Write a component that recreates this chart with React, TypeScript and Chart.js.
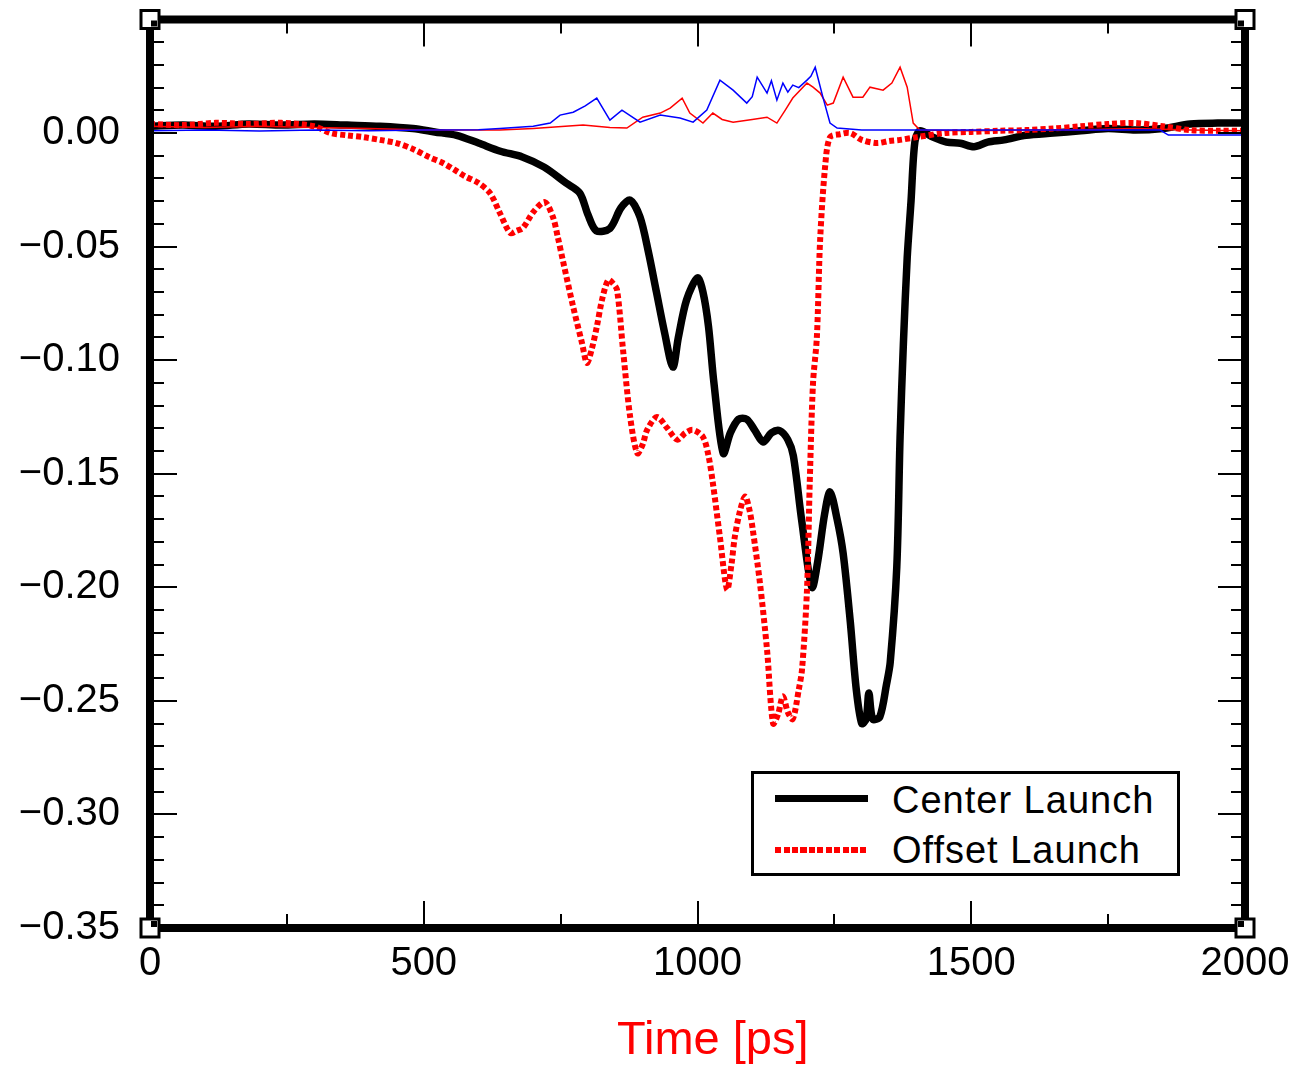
import React, { useEffect, useRef } from 'react';
import { Chart, registerables } from 'chart.js';

Chart.register(...registerables);

// ---- Data (time in ps, signal values) ----
const centerTime = [0, 60, 120, 180, 240, 300, 360, 420, 480, 520, 560, 600, 640, 680, 720, 760, 785, 800, 815, 840, 860, 877, 895, 910, 925, 940, 955, 965, 980, 1000, 1010, 1020, 1030, 1047, 1060, 1075, 1090, 1105, 1120, 1135, 1150, 1165, 1175, 1190, 1209, 1220, 1232, 1242, 1255, 1266, 1279, 1290, 1300, 1308, 1313, 1320, 1333, 1345, 1352, 1364, 1370, 1376, 1383, 1390, 1397, 1406, 1430, 1455, 1480, 1505, 1530, 1560, 1600, 1650, 1700, 1750, 1800, 1850, 1900, 1950, 2000];
const centerValue = [0.003, 0.0035, 0.003, 0.004, 0.0035, 0.004, 0.0035, 0.003, 0.002, 0.0005, -0.001, -0.0044, -0.008, -0.0105, -0.015, -0.022, -0.0264, -0.036, -0.043, -0.042, -0.033, -0.0295, -0.037, -0.052, -0.07, -0.088, -0.103, -0.09, -0.0735, -0.0638, -0.07, -0.085, -0.11, -0.141, -0.132, -0.126, -0.126, -0.131, -0.136, -0.132, -0.131, -0.135, -0.142, -0.17, -0.2, -0.188, -0.168, -0.158, -0.17, -0.185, -0.215, -0.245, -0.26, -0.258, -0.2465, -0.258, -0.257, -0.243, -0.233, -0.191, -0.134, -0.093, -0.055, -0.03, -0.004, 0.001, -0.0018, -0.004, -0.0045, -0.006, -0.004, -0.003, -0.001, 0.0, 0.001, 0.002, 0.0013, 0.002, 0.004, 0.0044, 0.0044];

const offsetTime = [0, 60, 120, 180, 240, 300, 330, 360, 390, 420, 450, 480, 510, 535, 555, 575, 600, 621, 639, 658, 670, 681, 700, 721, 736, 745, 754, 773, 789, 798, 807, 816, 826, 837, 845, 853, 864, 877, 890, 900, 908, 926, 945, 963, 978, 992, 1010, 1020, 1028, 1041, 1054, 1062, 1068, 1078, 1087, 1095, 1101, 1114, 1127, 1138, 1147, 1156, 1165, 1174, 1185, 1191, 1200, 1205, 1211, 1218, 1224, 1233, 1242, 1260, 1279, 1300, 1328, 1350, 1370, 1401, 1450, 1500, 1550, 1600, 1650, 1700, 1750, 1800, 1850, 1900, 1950, 2000];
const offsetValue = [0.004, 0.0035, 0.0045, 0.004, 0.0045, 0.003, 0.0, -0.001, -0.0018, -0.003, -0.0044, -0.007, -0.0106, -0.0132, -0.016, -0.019, -0.022, -0.0264, -0.0352, -0.044, -0.043, -0.0418, -0.0348, -0.0304, -0.037, -0.046, -0.056, -0.0766, -0.0924, -0.1012, -0.095, -0.0854, -0.073, -0.0647, -0.066, -0.069, -0.0955, -0.125, -0.141, -0.137, -0.1307, -0.125, -0.13, -0.135, -0.132, -0.1307, -0.1338, -0.142, -0.154, -0.178, -0.201, -0.19, -0.178, -0.166, -0.16, -0.166, -0.1747, -0.198, -0.2275, -0.26, -0.256, -0.248, -0.255, -0.258, -0.245, -0.236, -0.201, -0.154, -0.11, -0.09, -0.047, -0.015, -0.0018, -0.0005, 0.0, -0.003, -0.0044, -0.0035, -0.003, -0.0018, 0.0, 0.0005, 0.001, 0.0013, 0.002, 0.003, 0.004, 0.0044, 0.003, 0.0013, 0.001, 0.001];

const blueTime = [0, 100, 200, 300, 400, 500, 600, 639, 700, 731, 749, 773, 795, 816, 840, 862, 895, 932, 968, 992, 1017, 1041, 1065, 1090, 1100, 1109, 1127, 1135, 1145, 1156, 1165, 1174, 1185, 1200, 1207, 1215, 1229, 1242, 1255, 1300, 1400, 1500, 1600, 1700, 1845, 1860, 2000];
const blueValue = [0.001, 0.0013, 0.0009, 0.0013, 0.001, 0.0013, 0.0015, 0.002, 0.003, 0.0044, 0.0079, 0.0092, 0.012, 0.0154, 0.0057, 0.0101, 0.0048, 0.0079, 0.0066, 0.0048, 0.0101, 0.0233, 0.0189, 0.0132, 0.016, 0.0246, 0.0176, 0.023, 0.0145, 0.022, 0.018, 0.0211, 0.02, 0.0233, 0.025, 0.029, 0.0158, 0.0044, 0.0022, 0.0013, 0.0013, 0.0013, 0.0013, 0.0013, 0.0013, -0.0009, -0.0009];

const redThinTime = [0, 100, 200, 300, 400, 500, 600, 639, 700, 791, 840, 871, 900, 932, 950, 972, 986, 1010, 1028, 1045, 1065, 1100, 1127, 1145, 1160, 1174, 1200, 1211, 1224, 1237, 1248, 1266, 1284, 1302, 1315, 1339, 1355, 1370, 1383, 1394, 1406, 1500, 1600, 1700, 1800, 1900, 2000];
const redThinValue = [0.003, 0.0025, 0.003, 0.0025, 0.002, 0.0013, 0.0013, 0.0013, 0.002, 0.0035, 0.0025, 0.0022, 0.007, 0.0088, 0.011, 0.0154, 0.0088, 0.0044, 0.0088, 0.006, 0.0048, 0.006, 0.007, 0.0044, 0.01, 0.0154, 0.022, 0.0202, 0.0176, 0.0123, 0.0132, 0.0246, 0.0158, 0.0158, 0.0202, 0.0189, 0.022, 0.029, 0.0202, 0.0044, 0.0013, 0.001, 0.0013, 0.0015, 0.002, 0.0013, 0.001];

const xMajorTicks = [0, 500, 1000, 1500, 2000];
const xMinorTicks = [250, 750, 1250, 1750];
const yMajorTicks = [0.05, 0, -0.05, -0.1, -0.15, -0.2, -0.25, -0.3, -0.35];

const legendLabels = ['Center Launch', 'Offset Launch'];
const axisTitle = 'Time [ps]';

const pts = (t: number[], v: number[]) => t.map((x, i) => ({ x, y: v[i] }));

const TICK_FONT = "'Liberation Sans', Arial, sans-serif";

const W = 1286;
const H = 1050;

const framePlugin = {
  id: 'frame',
  afterDraw(chart: any) {
    const { ctx, chartArea: a, scales } = chart;
    const xs = scales.x;
    const ys = scales.y;
    ctx.save();
    ctx.strokeStyle = '#000';
    ctx.lineWidth = 2;
    ctx.beginPath();
    const xt = (v: number, len: number) => {
      const p = Math.round(xs.getPixelForValue(v));
      ctx.moveTo(p, a.bottom);
      ctx.lineTo(p, a.bottom - len);
      ctx.moveTo(p, a.top);
      ctx.lineTo(p, a.top + len);
    };
    const yt = (v: number, len: number) => {
      const p = Math.round(ys.getPixelForValue(v));
      ctx.moveTo(a.left, p);
      ctx.lineTo(a.left + len, p);
      ctx.moveTo(a.right, p);
      ctx.lineTo(a.right - len, p);
    };
    xMajorTicks.forEach((v) => xt(v, 27));
    xMinorTicks.forEach((v) => xt(v, 14));
    yMajorTicks.forEach((v) => yt(v, 27));
    for (let i = -34; i <= 4; i++) {
      if (i % 5 !== 0) yt(i / 100, 14);
    }
    ctx.stroke();

    ctx.lineWidth = 8;
    ctx.strokeRect(a.left, a.top, a.right - a.left, a.bottom - a.top);

    const corners = [
      [a.left, a.top],
      [a.right, a.top],
      [a.left, a.bottom],
      [a.right, a.bottom],
    ];
    corners.forEach(([cx, cy]) => {
      ctx.fillStyle = '#fff';
      ctx.fillRect(cx - 10, cy - 10, 20, 20);
      ctx.lineWidth = 3;
      ctx.strokeStyle = '#000';
      ctx.strokeRect(cx - 9, cy - 9, 18, 18);
      ctx.fillStyle = '#000';
      const dx = cx < (a.left + a.right) / 2 ? 1 : -7;
      const dy = cy < (a.top + a.bottom) / 2 ? 1 : -7;
      ctx.fillRect(cx + dx, cy + dy, 6, 6);
    });
    ctx.restore();
  },
};

export default function App() {
  const ref = useRef<HTMLCanvasElement | null>(null);

  useEffect(() => {
    if (!ref.current) return;
    const body = document.body;
    body.style.marginRight = '0px';
    body.style.marginBottom = '0px';
    body.style.width = W + 'px';
    body.style.height = '1058px';
    const chart = new Chart(ref.current, {
      type: 'line',
      data: {
        datasets: [
          {
            label: 'thin blue',
            data: pts(blueTime, blueValue),
            borderColor: '#0000ff',
            borderWidth: 1.5,
            pointRadius: 0,
            tension: 0,
            order: 0,
          },
          {
            label: 'thin red',
            data: pts(redThinTime, redThinValue),
            borderColor: '#ff0000',
            borderWidth: 1.5,
            pointRadius: 0,
            tension: 0,
            order: 1,
          },
          {
            label: legendLabels[1],
            data: pts(offsetTime, offsetValue),
            borderColor: '#ff0000',
            borderWidth: 6,
            borderDash: [5, 3],
            pointRadius: 0,
            tension: 0.3,
            order: 2,
          },
          {
            label: legendLabels[0],
            data: pts(centerTime, centerValue),
            borderColor: '#000000',
            borderWidth: 7.5,
            pointRadius: 0,
            tension: 0.3,
            order: 3,
          },
        ],
      },
      options: {
        animation: false,
        responsive: false,
        maintainAspectRatio: false,
        layout: { padding: { top: 11.5, right: W - 1237, left: 0, bottom: 0 } },
        plugins: {
          legend: { display: false },
          tooltip: { enabled: false },
          title: { display: false },
        },
        scales: {
          x: {
            type: 'linear',
            min: 0,
            max: 2000,
            grid: { display: false, drawTicks: false },
            border: { display: false },
            ticks: {
              stepSize: 500,
              color: '#000',
              padding: 12,
              maxRotation: 0,
              font: { family: TICK_FONT, size: 40 },
              callback: (v: any) => String(v),
            },
            afterFit: (s: any) => {
              s.height = H - 920;
              s.paddingLeft = 0;
              s.paddingRight = 0;
            },
          },
          y: {
            type: 'linear',
            min: -0.35,
            max: 0.05,
            grid: { display: false, drawTicks: false },
            border: { display: false },
            ticks: {
              stepSize: 0.05,
              color: '#000',
              padding: 30,
              font: { family: TICK_FONT, size: 40 },
              callback: (v: any) => {
                const n = Number(v);
                if (n > 0.001) return '';
                if (Math.abs(n) < 1e-9) return '0.00';
                return '\u2212' + Math.abs(n).toFixed(2);
              },
            },
            afterFit: (s: any) => {
              s.width = 142;
              s.paddingTop = 0;
              s.paddingBottom = 0;
            },
          },
        },
      },
      plugins: [framePlugin],
    });
    return () => chart.destroy();
  }, []);

  const legendFont = "'Liberation Sans', Arial, sans-serif";

  return (
    <div style={{ position: 'relative', width: W, height: 1058, background: '#fff' }}>
      <canvas ref={ref} width={W} height={H} style={{ display: 'block' }} />
      <div
        style={{
          position: 'absolute',
          left: 743,
          top: 763,
          width: 429,
          height: 105,
          boxSizing: 'border-box',
          border: '3px solid #000',
          background: '#fff',
        }}
      />
      <div style={{ position: 'absolute', left: 767, top: 787, width: 93, height: 7, background: '#000' }} />
      <div
        style={{
          position: 'absolute',
          left: 767,
          top: 839,
          width: 92,
          height: 6,
          background: 'repeating-linear-gradient(to right, #ff0000 0px, #ff0000 6px, transparent 6px, transparent 8.5px)',
        }}
      />
      <div
        style={{
          position: 'absolute',
          left: 884,
          top: 773,
          fontFamily: legendFont,
          fontSize: 38,
          lineHeight: 1,
          whiteSpace: 'nowrap',
          color: '#000',
          letterSpacing: 1,
        }}
      >
        {legendLabels[0]}
      </div>
      <div
        style={{
          position: 'absolute',
          left: 884,
          top: 823,
          fontFamily: legendFont,
          fontSize: 38,
          lineHeight: 1,
          whiteSpace: 'nowrap',
          color: '#000',
          letterSpacing: 1,
        }}
      >
        {legendLabels[1]}
      </div>
      <div
        style={{
          position: 'absolute',
          left: 609,
          top: 1006,
          fontFamily: "'Liberation Sans', Arial, sans-serif",
          fontSize: 47,
          lineHeight: 1,
          whiteSpace: 'nowrap',
          color: '#ff0000',
        }}
      >
        {axisTitle}
      </div>
    </div>
  );
}
